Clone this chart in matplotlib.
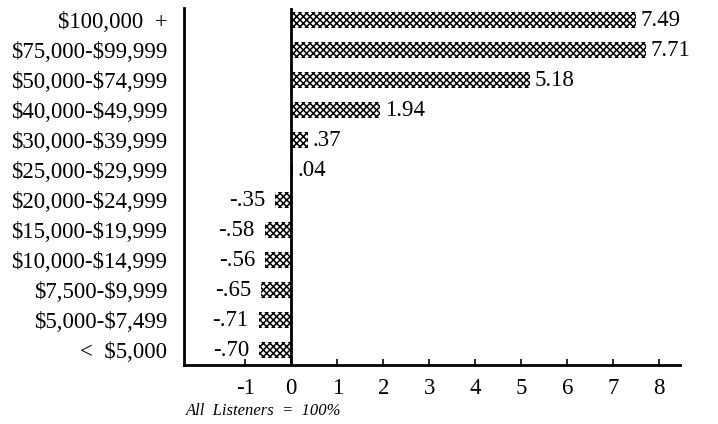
import matplotlib
matplotlib.use("Agg")
import matplotlib.pyplot as plt

categories = ["$100,000  +", "$75,000-$99,999", "$50,000-$74,999", "$40,000-$49,999",
              "$30,000-$39,999", "$25,000-$29,999", "$20,000-$24,999", "$15,000-$19,999",
              "$10,000-$14,999", "$7,500-$9,999", "$5,000-$7,499", "<  $5,000"]
values = [7.49, 7.71, 5.18, 1.94, 0.37, 0.04, -0.35, -0.58, -0.56, -0.65, -0.71, -0.70]
value_labels = ["7.49", "7.71", "5.18", "1.94", ".37", ".04", "-.35", "-.58", "-.56", "-.65", "-.71", "-.70"]
x_ticks = [-1, 0, 1, 2, 3, 4, 5, 6, 7, 8]

plt.rcParams["font.family"] = ["Liberation Serif", "DejaVu Serif"]
plt.rcParams["hatch.linewidth"] = 1.1

FS = 16.5

fig = plt.figure(figsize=(7.18, 4.24), dpi=100)
ax = fig.add_axes([184 / 718, (424 - 365) / 424, (680 - 184) / 718, (365 - 8) / 424])

n = len(categories)
ypos = list(range(n))
ax.barh(ypos, values, height=0.56, color="white", edgecolor="black",
        hatch="xxxxx", linewidth=0)

for y, v, lab in zip(ypos, values, value_labels):
    if v >= 0:
        ax.text(v + 0.1, y, lab, va="center", ha="left", fontsize=FS)
    else:
        ax.text(v - 0.22, y, lab, va="center", ha="right", fontsize=FS)

ax.set_ylim(n - 0.5, -0.4)
ax.set_xlim(-2.33, 8.45)
ax.set_yticks(ypos)
ax.set_yticklabels([c.replace("$", r"\$") for c in categories], fontsize=FS)
ax.tick_params(axis="y", length=0, pad=12)
ax.set_xticks(x_ticks)
ax.set_xticklabels([str(t) for t in x_ticks], fontsize=FS)
ax.tick_params(axis="x", direction="in", length=4, width=1.2, pad=9)

ax.axvline(0, color="black", linewidth=2)
for side in ["top", "right"]:
    ax.spines[side].set_visible(False)
ax.spines["left"].set_linewidth(2)
ax.spines["bottom"].set_linewidth(2)

fig.text(186 / 718, 1 - 411 / 424, "All  Listeners  =  100%", fontsize=12,
         style="italic", va="center", ha="left")

fig.savefig("out.png", dpi=100)
